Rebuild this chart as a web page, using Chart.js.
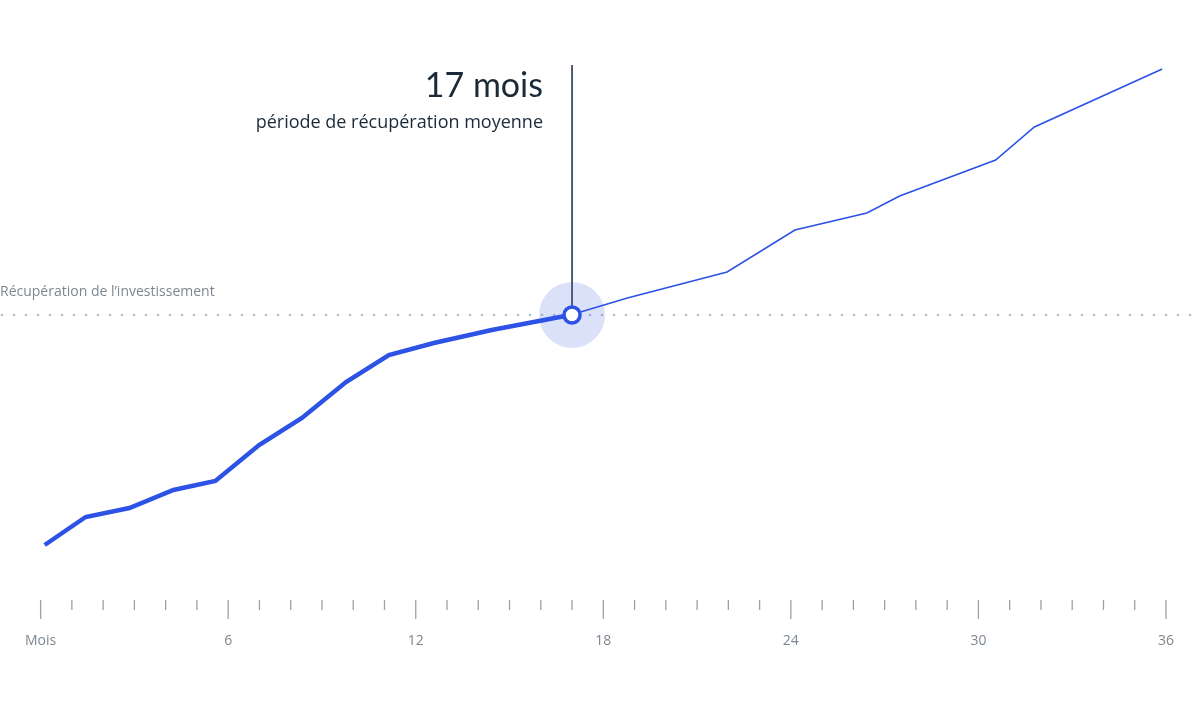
<!DOCTYPE html>
<html><head><meta charset="utf-8">
<script src="https://cdn.jsdelivr.net/npm/chart.js@4"></script>
<style>html,body{margin:0;background:#fff}#w{width:1199px;height:716px}</style>
</head><body><div id="w"><canvas id="c"></canvas></div>
<script>
const monthsA=[0.13,1.44,2.84,4.25,5.59,6.99,8.36,9.77,11.14,12.58,14.43,16.95];
const valuesA=[55,83,92,110,119,155,182,218,245,257,270,285];
const monthsB=[16.95,18.77,21.96,24.13,26.43,27.48,30.55,31.79,35.88];
const valuesB=[285,302,328,370,387,404,440,473,531];
const tickLabels={0:'Mois',6:'6',12:'12',18:'18',24:'24',30:'30',36:'36'};
const payback=17, threshold=285;
const title='17 mois', subtitle='période de récupération moyenne', lineLabel='Récupération de l’investissement';
const blue='#2c52e6', navy='#1b2a38', grey='#7d8791';

const deco={id:'deco',
 beforeDatasetsDraw(ch){const c=ch.ctx,x=ch.scales.x,y=ch.scales.y;
  const ty=y.getPixelForValue(threshold);
  c.save();c.fillStyle='#b9bec4';
  for(let px=2;px<1199;px+=12){c.beginPath();c.arc(px,ty,1.3,0,7);c.fill();}
  c.fillStyle=grey;c.font='14px "Open Sans"';c.textBaseline='alphabetic';c.textAlign='left';
  c.fillText(lineLabel,0,ty-19);
  const bx=x.getPixelForValue(payback);
  c.strokeStyle=navy;c.lineWidth=1.5;c.beginPath();c.moveTo(bx,65);c.lineTo(bx,ty);c.stroke();
  c.fillStyle='rgba(60,90,230,0.18)';c.beginPath();c.arc(bx,ty,33,0,7);c.fill();
  c.fillStyle=navy;c.textAlign='right';c.font='34px Lato';c.fillText(title,543,97);
  c.font='18px "Open Sans"';c.fillText(subtitle,543,128);
  c.strokeStyle='#9aa1a8';c.lineWidth=1.3;
  for(let m=0;m<=36;m++){const px=x.getPixelForValue(m);const L=m%6===0?19:10;
   c.beginPath();c.moveTo(px,600);c.lineTo(px,600+L);c.stroke();}
  c.restore();},
 afterDatasetsDraw(ch){const c=ch.ctx,x=ch.scales.x,y=ch.scales.y;
  const bx=x.getPixelForValue(payback),ty=y.getPixelForValue(threshold);
  c.save();c.fillStyle='#fff';c.strokeStyle=blue;c.lineWidth=3.5;
  c.beginPath();c.arc(bx,ty,8,0,7);c.fill();c.stroke();c.restore();}
};
new Chart(document.getElementById('c'),{type:'line',
 data:{datasets:[
  {data:monthsA.map((m,i)=>({x:m,y:valuesA[i]})),borderColor:blue,borderWidth:4.5,pointRadius:0,tension:0},
  {data:monthsB.map((m,i)=>({x:m,y:valuesB[i]})),borderColor:blue,borderWidth:1.6,pointRadius:0,tension:0}]},
 options:{responsive:true,maintainAspectRatio:false,animation:false,
  layout:{padding:{left:25,right:31,top:0,bottom:0}},
  plugins:{legend:{display:false},tooltip:{enabled:false}},
  scales:{
   x:{type:'linear',min:0,max:36,afterFit(s){s.height=116;},
    grid:{display:false},border:{display:false},
    ticks:{stepSize:1,autoSkip:false,maxRotation:0,padding:25,color:grey,font:{family:'Open Sans',size:14},
     callback:v=>tickLabels[v]??''}},
   y:{display:false,min:0,max:600}}},
 plugins:[deco]});
</script></body></html>
